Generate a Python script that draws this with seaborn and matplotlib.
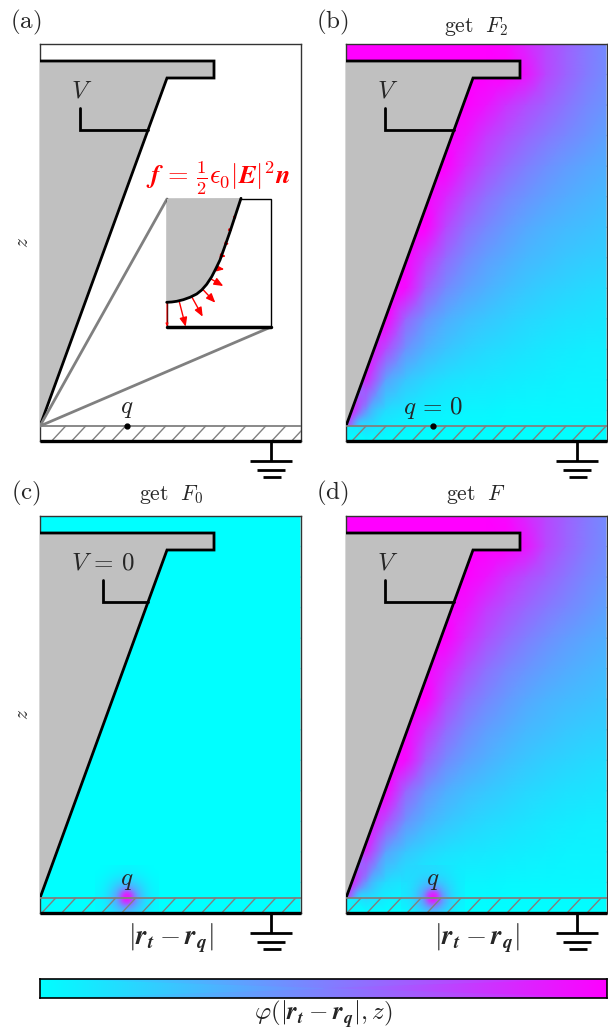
#!/usr/bin/env python3
"""Four panel potential maps of a probe tip over a grounded sample."""

import numpy as np
import matplotlib
matplotlib.use("Agg")
import matplotlib.pyplot as plt
import seaborn as sns
from matplotlib.colors import LinearSegmentedColormap
from matplotlib.patches import Polygon, Rectangle

FIG_W, FIG_H = 608, 1032
BOX_W, BOX_H = 261, 397

# potential with tip at V and q = 0, top row is z = 397, nodes every 20 in x
field_v = [
    [1, 1, 1, 1, 1, 1, 1, 1, .97, .85, .72, .62, .53, .46],
    [1, 1, 1, 1, 1, 1, 1, 1, 1, .92, .72, .61, .52, .45],
    [1, 1, 1, 1, 1, 1, 1, .92, .80, .70, .62, .54, .47, .42],
    [1, 1, 1, 1, 1, 1, .92, .78, .68, .60, .53, .47, .42, .37],
    [1, 1, 1, 1, 1, 1, .82, .68, .58, .50, .44, .39, .35, .32],
    [1, 1, 1, 1, 1, .85, .68, .56, .48, .42, .37, .33, .30, .27],
    [1, 1, 1, 1, 1, .72, .56, .47, .40, .34, .30, .27, .25, .23],
    [1, 1, 1, 1, .78, .58, .46, .38, .33, .28, .25, .22, .20, .19],
    [1, 1, 1, .95, .62, .46, .37, .31, .26, .22, .19, .17, .15, .14],
    [1, 1, 1, .60, .42, .32, .26, .22, .19, .16, .14, .12, .11, .10],
    [1, 1, .70, .42, .30, .23, .18, .15, .13, .11, .09, .08, .07, .07],
    [.60, .85, .36, .22, .16, .12, .10, .09, .08, .07, .06, .05, .05, .05],
    [.10, .30, .14, .09, .06, .05, .04, .04, .03, .03, .03, .03, .03, .03],
    [0, 0, 0, 0, 0, 0, 0, 0, 0, 0, 0, 0, 0, 0],
]
field_zero = [[0] * 14 for _ in range(14)]

# sharp corner of the potential right at the tip, x 0-40, z 55 down to 15
tip_glow = [
    [0, 0, 0, 0, 0],
    [.9, .5, .2, 0, 0],
    [.9, .7, .15, 0, 0],
    [.9, .5, .1, 0, 0],
    [.7, 0, 0, 0, 0],
]

# potential of the point charge around q, nodes every 8 in x and z
charge_glow = [
    [0, .01, .02, .03, .04, .03, .02, .01, 0],
    [.01, .03, .06, .08, .10, .08, .06, .03, .01],
    [.02, .06, .12, .20, .25, .20, .12, .06, .02],
    [.03, .08, .20, .36, .55, .36, .20, .08, .03],
    [.04, .10, .25, .55, 1.0, .55, .25, .10, .04],
    [.03, .08, .20, .36, .55, .36, .20, .08, .03],
    [.02, .06, .12, .20, .25, .20, .12, .06, .02],
    [.01, .03, .06, .08, .10, .08, .06, .03, .01],
    [0, .01, .02, .03, .04, .03, .02, .01, 0],
]
# bright centre of the same charge, nodes every 4
charge_core = [
    [0, 0, 0, 0, 0],
    [0, .35, .55, .35, 0],
    [0, .55, 1.0, .55, 0],
    [0, .35, .55, .35, 0],
    [0, 0, 0, 0, 0],
]
cbar_values = [[0, 1], [0, 1]]

# outline of the tip
tip_x = [0, 127, 174, 174, 0]
tip_z = [15, 363, 363, 380, 380]

# zoomed apex in panel (a)
inset_x = [126.7, 131.7, 136.7, 143.3, 150, 156.7, 161.7, 166.7, 171.7, 176, 180, 185, 190, 201]
inset_z = [138.7, 139, 139.7, 141.3, 143.7, 147, 151, 156.7, 164.3, 172.7, 181, 195, 209.3, 242.7]

arrow_tail_x = [127, 139.3, 151.7, 162.7, 171, 176.7, 181, 186, 190, 195]
arrow_tail_z = [137.7, 139.3, 144.3, 151.7, 162, 172.7, 185.3, 197.7, 211, 223.7]
arrow_head_x = [127, 145.7, 162.7, 175.3, 183.3, 184.3, 186, 189.3, 192.3, 196.7]
arrow_head_z = [114.3, 114.3, 124.3, 138.3, 155, 171.7, 184.7, 196.7, 210, 222.3]

sns.set_style("white")
plt.rcParams["mathtext.fontset"] = "cm"
plt.rcParams["font.size"] = 18

cool_cmap = sns.blend_palette(["#00ffff", "#ff00ff"], as_cmap=True)
glow_cmap = LinearSegmentedColormap.from_list("glow", [(1, 0, 1, 0), (1, 0, 1, 1)])

fig = plt.figure(figsize=(FIG_W / 100, FIG_H / 100), dpi=100)


def add_box(left, top, width, height):
    return fig.add_axes([left / FIG_W, 1 - (top + height) / FIG_H, width / FIG_W, height / FIG_H])


def label(px, py, text, **kw):
    fig.text(px / FIG_W, 1 - py / FIG_H, text, ha="center", va="center", **kw)


def draw_ground(ax):
    line = dict(color="black", lw=2, clip_on=False, solid_capstyle="butt", zorder=6)
    ax.plot([231, 231], [0, -20], **line)
    ax.plot([210, 252], [-20, -20], **line)
    ax.plot([217, 245], [-29, -29], **line)
    ax.plot([223, 241], [-36, -36], **line)


def draw_panel(left, top, field, wire_x, hatch_start):
    # field goes underneath, everything else on a clear axes with z in box units
    if field is not None:
        base = add_box(left, top, BOX_W, BOX_H)
        sns.heatmap(field, ax=base, cmap=cool_cmap, vmin=0, vmax=1, cbar=False,
                    xticklabels=False, yticklabels=False, shading="gouraud")
        base.set(xlim=(0, 13.05), ylim=(13, 0))
    ax = add_box(left, top, BOX_W, BOX_H)
    ax.set_facecolor("none")

    ax.add_patch(Polygon(np.column_stack([tip_x, tip_z]), closed=False, facecolor="silver",
                         edgecolor="black", lw=2, zorder=3, joinstyle="miter"))
    # wire to the tip
    wire_end = 108
    ax.plot([wire_x, wire_x, wire_end], [333, 311, 311], color="black", lw=2, zorder=4,
            solid_joinstyle="miter")

    # sample layer
    ax.plot([0, BOX_W], [15, 15], color="gray", lw=1.3, zorder=4)
    for x0 in np.arange(hatch_start, BOX_W, 20):
        ax.plot([x0, x0 + 14], [0, 15], color="gray", lw=1, zorder=4)
    ax.plot([0, BOX_W], [0, 0], color="black", lw=2.4, clip_on=False, zorder=6,
            solid_capstyle="butt")
    draw_ground(ax)

    ax.set(xlim=(0, BOX_W), ylim=(0, BOX_H), xticks=[], yticks=[])
    for spine in ax.spines.values():
        spine.set_linewidth(1)
        spine.set_color("#333333")
    return ax


def add_glow(ax, table, extent):
    ax.imshow(table, extent=extent, cmap=glow_cmap, vmin=0, vmax=1, interpolation="bicubic",
              aspect="auto", zorder=2)
    ax.set(xlim=(0, BOX_W), ylim=(0, BOX_H))


def add_charge(ax):
    add_glow(ax, charge_glow, (55, 119, -17, 47))
    add_glow(ax, charge_core, (77, 97, 5, 25))


# (a) forces on the tip
ax_a = draw_panel(40, 44, None, 40, 11.7)
ax_a.plot([0, 127], [15, 242], color="gray", lw=2, zorder=4)
ax_a.plot([0, 231], [15, 114], color="gray", lw=2, zorder=4)
ax_a.add_patch(Rectangle((127, 114), 104, 128, facecolor="white", edgecolor="black", lw=1, zorder=5))
ax_a.add_patch(Polygon(np.column_stack([[127] + inset_x, [242] + inset_z]), closed=True,
                       facecolor="silver", edgecolor="none", zorder=5))
ax_a.plot(inset_x, inset_z, color="black", lw=2, zorder=7)
ax_a.plot([127, 231], [114, 114], color="black", lw=2.5, zorder=7)
for i, (xt, zt, xh, zh) in enumerate(zip(arrow_tail_x, arrow_tail_z, arrow_head_x, arrow_head_z)):
    # short arrows get small heads, the first one lies on the frame and barely shows
    size = min(9, 0.9 * np.hypot(xh - xt, zh - zt)) if i > 0 else 3
    ax_a.annotate("", xy=(xh, zh), xytext=(xt, zt), zorder=6,
                  arrowprops=dict(arrowstyle="-|>,head_length=0.6,head_width=0.25", color="red",
                                  lw=1 if i > 0 else 0.7, mutation_scale=size, shrinkA=0, shrinkB=0))
ax_a.plot([87], [15], "o", color="black", ms=3.5, zorder=7)
ax_a.text(87, 33, "$q$", ha="center", va="center")
ax_a.text(42, 350, "$V$", ha="center", va="center", zorder=8)
ax_a.text(178.5, 263, r"$\boldsymbol{f}\,=\,\frac{1}{2}\epsilon_0|\boldsymbol{E}|^2\boldsymbol{n}$",
          color="red", ha="center", va="center", fontsize=19, zorder=8)

# (b) tip voltage only
ax_b = draw_panel(346, 44, field_v, 39, 6)
add_glow(ax_b, tip_glow, (0, 40, 15, 55))
ax_b.plot([87], [15], "o", color="black", ms=3.5, zorder=7)
ax_b.text(87, 33, r"$q\,=\,0$", ha="center", va="center")
ax_b.text(42, 350, "$V$", ha="center", va="center", zorder=8)

# (c) charge only
ax_c = draw_panel(40, 516, field_zero, 63, 1.7)
add_charge(ax_c)
ax_c.text(87, 33, "$q$", ha="center", va="center", zorder=8)
ax_c.text(63, 350, r"$V\,=\,0$", ha="center", va="center", zorder=8)

# (d) both together
ax_d = draw_panel(346, 516, field_v, 39, 1)
add_glow(ax_d, tip_glow, (0, 40, 15, 55))
add_charge(ax_d)
ax_d.text(87, 33, "$q$", ha="center", va="center", zorder=8)
ax_d.text(42, 350, "$V$", ha="center", va="center", zorder=8)

for px, py, text in [(26, 22, "a"), (332, 22, "b"), (26, 493, "c"), (332, 493, "d")]:
    label(px, py, r"$\mathrm{(%s)}$" % text, fontsize=18)
label(476, 26, r"$\mathrm{get}\ \ F_2$", fontsize=15.5)
label(171, 495, r"$\mathrm{get}\ \ F_0$", fontsize=15.5)
label(476, 495, r"$\mathrm{get}\ \ F$", fontsize=15.5)
label(23, 242, "$z$", rotation=90, fontsize=14)
label(23, 714, "$z$", rotation=90, fontsize=14)
distance = r"$|\boldsymbol{r}_{\boldsymbol{t}}-\boldsymbol{r}_{\boldsymbol{q}}|$"
label(171, 938, distance, fontsize=19.5)
label(477, 938, distance, fontsize=19.5)
label(323, 1014, r"$\varphi(|\boldsymbol{r}_{\boldsymbol{t}}-\boldsymbol{r}_{\boldsymbol{q}}|,z)$",
      fontsize=18)

# colour bar
cax = add_box(40, 979, 567, 19)
sns.heatmap(cbar_values, ax=cax, cmap=cool_cmap, vmin=0, vmax=1, cbar=False,
            xticklabels=False, yticklabels=False, shading="gouraud")
cax.set(xlim=(0, 1), ylim=(1, 0), xticks=[], yticks=[])
for spine in cax.spines.values():
    spine.set_visible(True)
    spine.set_linewidth(1.2)
    spine.set_color("black")

fig.savefig("out.png", dpi=100)
plt.close(fig)
